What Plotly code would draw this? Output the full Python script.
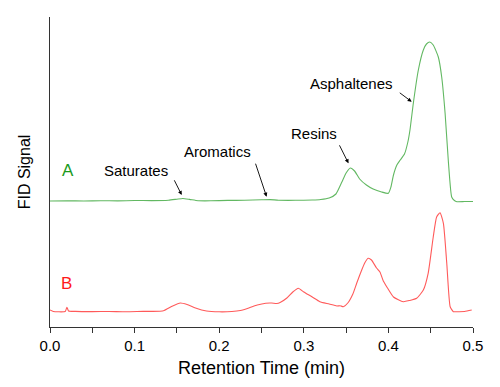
import plotly.graph_objects as go

# Trace A (green) - retention time (min) and FID signal (arbitrary units)
a_time = [0.000, 0.020, 0.040, 0.060, 0.080, 0.100, 0.120, 0.140, 0.150, 0.157, 0.165, 0.175,
          0.190, 0.210, 0.230, 0.250, 0.260, 0.270, 0.290, 0.310, 0.320, 0.330, 0.338, 0.345,
          0.350, 0.355, 0.360, 0.366, 0.374, 0.382, 0.392, 0.400, 0.403, 0.406, 0.410, 0.414,
          0.419, 0.423, 0.4255, 0.4295, 0.4354, 0.4413, 0.445, 0.449, 0.453, 0.459, 0.463,
          0.467, 0.471, 0.4748, 0.478, 0.481, 0.490, 0.500]
a_signal = [126.0, 126.2, 126.0, 126.3, 126.1, 126.5, 126.4, 126.8, 127.8, 128.5, 127.6, 126.3,
            126.2, 126.6, 126.7, 127.2, 127.4, 126.8, 126.7, 127.0, 127.5, 129.0, 133.0, 145.0,
            154.0, 159.0, 156.0, 148.0, 142.0, 138.0, 135.0, 133.7, 140.0, 152.0, 162.0, 167.0,
            173.0, 185.0, 197.0, 224.0, 257.0, 277.0, 283.0, 285.0, 282.0, 270.0, 250.0,
            214.0, 164.0, 130.0, 126.5, 125.3, 125.5, 125.5]

# Trace B (red)
b_time = [0.000, 0.004, 0.010, 0.018, 0.020, 0.022, 0.030, 0.050, 0.070, 0.090, 0.110, 0.130,
          0.135, 0.145, 0.154, 0.162, 0.172, 0.185, 0.200, 0.215, 0.225, 0.235, 0.245, 0.255,
          0.262, 0.268, 0.272, 0.280, 0.287, 0.2935, 0.300, 0.310, 0.319, 0.330, 0.339, 0.343,
          0.3467, 0.352, 0.358, 0.3625, 0.368, 0.372, 0.376, 0.380, 0.386, 0.390, 0.394, 0.398,
          0.406, 0.4176, 0.425, 0.4334, 0.4413, 0.447, 0.453, 0.457, 0.461, 0.465, 0.469,
          0.473, 0.4768, 0.479, 0.490, 0.4985]
b_signal = [17.0, 15.5, 15.2, 15.5, 19.7, 16.0, 15.6, 15.4, 15.5, 15.2, 15.6, 15.8,
            16.5, 21.0, 24.0, 22.5, 19.0, 16.0, 15.2, 15.5, 16.5, 19.0, 22.0, 23.8,
            24.0, 23.5, 24.5, 29.0, 35.0, 38.7, 35.0, 30.0, 25.3, 23.0, 21.0, 21.3,
            20.3, 24.0, 33.0, 43.7, 56.0, 64.0, 68.7, 67.0, 59.0, 55.0, 46.0, 40.3,
            30.0, 25.3, 26.5, 28.7, 37.0, 53.7, 90.0, 110.0, 114.3, 103.7, 63.7,
            20.3, 15.3, 15.3, 15.5, 17.0]

# Labels
peak_names = ["Saturates", "Aromatics", "Resins", "Asphaltenes"]
peak_tip_x = [0.1557, 0.256, 0.3528, 0.4275]
peak_tip_y = [132.0, 130.3, 163.7, 225.3]
peak_label_x = [0.1011, 0.198, 0.3115, 0.3564]
peak_label_y = [157.0, 175.5, 194.0, 243.5]
arrow_dx = [-8.4, -11.7, -10.0, -13.4]
arrow_dy = [-16.7, -35.0, -20.0, -10.0]

series_names = ["A", "B"]
series_label_x = [0.0207, 0.0195]
series_label_y = [157.0, 43.5]

font_family = "Arial, Liberation Sans, sans-serif"

fig = go.Figure()
fig.add_trace(go.Scatter(x=a_time, y=a_signal, mode="lines", name="A",
                         line=dict(color="#62b862", width=1.1, shape="spline", smoothing=0.5)))
fig.add_trace(go.Scatter(x=b_time, y=b_signal, mode="lines", name="B",
                         line=dict(color="#ff5a5a", width=1.1, shape="spline", smoothing=0.5)))

annotations = []
for name, lx, ly in zip(peak_names, peak_label_x, peak_label_y):
    annotations.append(dict(x=lx, y=ly, xref="x", yref="y", text=name, showarrow=False,
                            font=dict(family=font_family, size=15, color="#000000")))
for tx, ty, dx, dy in zip(peak_tip_x, peak_tip_y, arrow_dx, arrow_dy):
    annotations.append(dict(x=tx, y=ty, xref="x", yref="y", text=" ", showarrow=True,
                            ax=dx, ay=dy, arrowhead=2, arrowsize=0.9, arrowwidth=0.9,
                            arrowcolor="#000000", standoff=0, startstandoff=0,
                            font=dict(size=1)))
series_colors = ["#1a9a1a", "#ff1a1a"]
for name, lx, ly, c in zip(series_names, series_label_x, series_label_y, series_colors):
    annotations.append(dict(x=lx, y=ly, xref="x", yref="y", text=name, showarrow=False,
                            font=dict(family=font_family, size=17, color=c)))

fig.update_layout(
    width=500, height=387,
    margin=dict(l=42, r=35, t=9, b=68),
    paper_bgcolor="white", plot_bgcolor="white",
    showlegend=False,
    font=dict(family=font_family, color="#000000"),
    annotations=annotations,
    xaxis=dict(range=[0, 0.5], dtick=0.1, tick0=0, tickformat=".1f",
               showgrid=False, zeroline=False, showline=True, linecolor="#333333", linewidth=1,
               ticks="outside", ticklen=5, tickcolor="#333333",
               minor=dict(dtick=0.05, ticks="outside", ticklen=5, tickcolor="#333333", showgrid=False),
               tickfont=dict(size=15, family=font_family),
               title=dict(text="Retention Time (min)", font=dict(size=18, family=font_family), standoff=8)),
    yaxis=dict(range=[0, 310], showgrid=False, zeroline=False, showline=True,
               linecolor="#333333", linewidth=1, ticks="", showticklabels=False,
               title=dict(text="FID Signal", font=dict(size=16, family=font_family), standoff=14)),
)

fig.write_html("out.html")
